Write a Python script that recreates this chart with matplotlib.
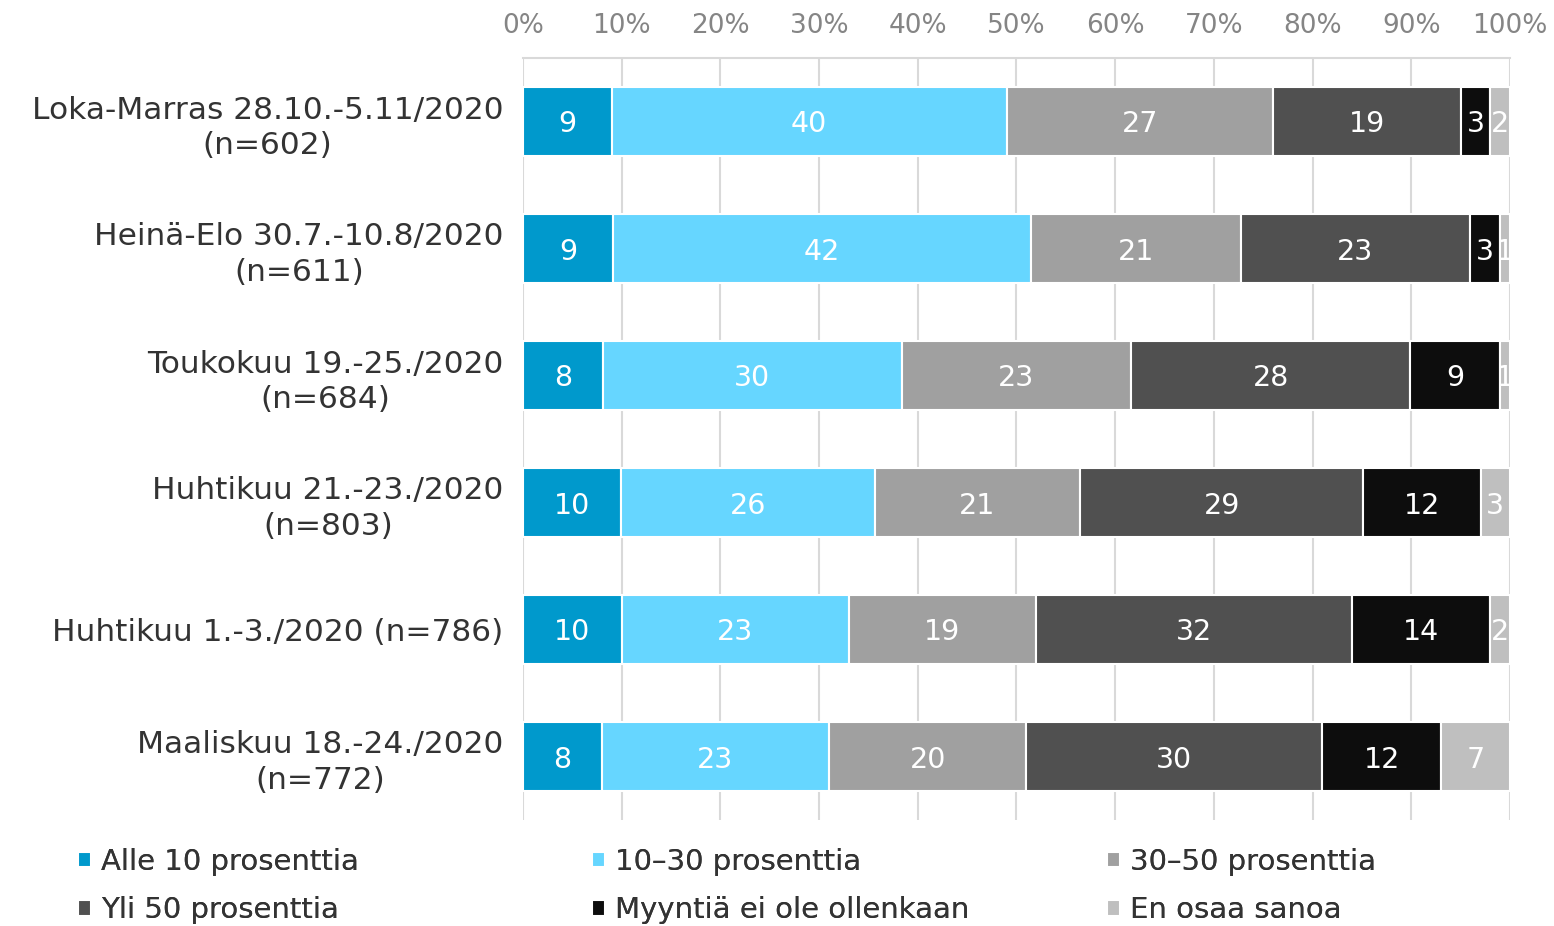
import matplotlib
matplotlib.use("Agg")
import matplotlib.pyplot as plt
import numpy as np

categories = [
    "Loka-Marras 28.10.-5.11/2020\n(n=602)",
    "Heinä-Elo 30.7.-10.8/2020\n(n=611)",
    "Toukokuu 19.-25./2020\n(n=684)",
    "Huhtikuu 21.-23./2020\n(n=803)",
    "Huhtikuu 1.-3./2020 (n=786)",
    "Maaliskuu 18.-24./2020\n(n=772)",
]
series_names = ["Alle 10 prosenttia", "10\u201330 prosenttia", "30\u201350 prosenttia",
                "Yli 50 prosenttia", "Myyntiä ei ole ollenkaan", "En osaa sanoa"]
alle10 = [9, 9, 8, 10, 10, 8]
p10_30 = [40, 42, 30, 26, 23, 23]
p30_50 = [27, 21, 23, 21, 19, 20]
yli50 = [19, 23, 28, 29, 32, 30]
ei_myyntia = [3, 3, 9, 12, 14, 12]
eos = [2, 1, 1, 3, 2, 7]
tick_labels = ["0%", "10%", "20%", "30%", "40%", "50%", "60%", "70%", "80%", "90%", "100%"]

colors = ["#0099CC", "#66D6FF", "#A0A0A0", "#505050", "#0D0D0D", "#BFBFBF"]

data = np.array([alle10, p10_30, p30_50, yli50, ei_myyntia, eos], dtype=float)
totals = data.sum(axis=0)
shares = data / totals * 100

fig = plt.figure(figsize=(15.54, 9.26), dpi=100)
ax = fig.add_axes([523/1554, 1-820/926, (1510-523)/1554, (820-58)/926])

y = np.arange(len(categories))
left = np.zeros(len(categories))
handles = []
for i, name in enumerate(series_names):
    bars = ax.barh(y, shares[i], left=left, height=0.54, color=colors[i],
                   edgecolor="white", linewidth=1.5, label=name, zorder=3)
    handles.append(bars)
    for j in range(len(categories)):
        cx = left[j] + shares[i][j] / 2
        ax.text(cx, y[j], f"{int(data[i][j])}", ha="center", va="center_baseline",
                color="white", fontsize=20.5, zorder=4, clip_on=True)
    left += shares[i]

ax.set_xlim(0, 100)
ax.set_ylim(len(categories) - 0.5, -0.5)
ax.set_xticks(np.arange(0, 101, 10))
ax.set_xticklabels(tick_labels)
ax.xaxis.tick_top()
ax.tick_params(axis="x", length=0, pad=14, labelsize=19, labelcolor="#858585")
ax.set_yticks(y)
ax.set_yticklabels(categories, fontsize=22.5, color="#333333", multialignment="center",
                   linespacing=1.3)
ax.tick_params(axis="y", length=0, pad=14)
ax.grid(axis="x", color="#D9D9D9", linewidth=1.5, zorder=0)
for s in ["left", "right", "bottom"]:
    ax.spines[s].set_visible(False)
ax.spines["top"].set_color("#D9D9D9")
ax.spines["top"].set_linewidth(1.5)

col_x = [78, 592, 1107]
for c in range(3):
    idx = [c, c + 3]
    leg = fig.legend([handles[k] for k in idx], [series_names[k] for k in idx],
                     loc="upper left", bbox_to_anchor=(col_x[c]/1554, 1-848/926),
                     ncol=1, frameon=False, fontsize=21, handlelength=0.45, handleheight=0.45,
                     handletextpad=0.35, labelspacing=0.7, borderaxespad=0, borderpad=0,
                     labelcolor="#333333")
    fig.add_artist(leg)

fig.savefig("out.png", dpi=100)
